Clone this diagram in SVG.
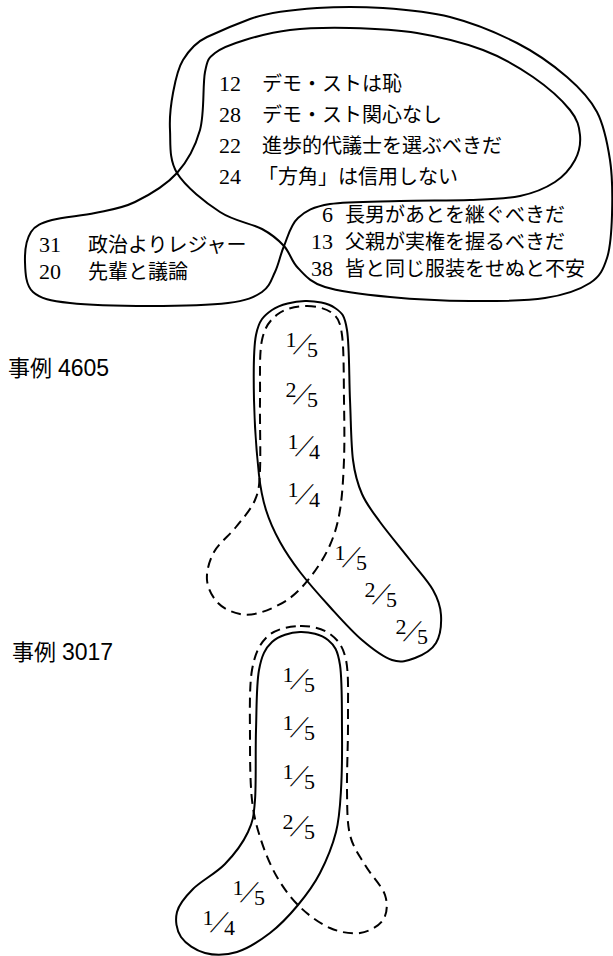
<svg xmlns="http://www.w3.org/2000/svg" width="613" height="956" viewBox="0 0 613 956">
<style>
.s{fill:none;stroke:#000;stroke-width:2;stroke-linejoin:round}
.d{fill:none;stroke:#000;stroke-width:2;stroke-dasharray:10 6}
.jp{font-family:"Noto Sans CJK JP","Noto Sans",sans-serif;font-size:20px;fill:#000}
.num{font-family:"Liberation Serif",serif;font-size:22px}
.lab{font-family:"Noto Sans CJK JP",sans-serif;font-size:22px;fill:#000}
.labn{font-family:"Liberation Sans",sans-serif;font-size:23px}
.fn{font-family:"Liberation Serif",serif;font-size:22px;fill:#000}
.fs{font-family:"Liberation Serif",serif;font-size:30px;fill:#000}
</style>
<defs>
<g id="f15"><text class="fn" x="-17.5" y="2">1</text><text class="fs" transform="translate(-10,9) skewX(-28)">/</text><text class="fn" x="4" y="12">5</text></g>
<g id="f25"><text class="fn" x="-17.5" y="2">2</text><text class="fs" transform="translate(-10,9) skewX(-28)">/</text><text class="fn" x="4" y="12">5</text></g>
<g id="f14"><text class="fn" x="-17.5" y="2">1</text><text class="fs" transform="translate(-10,9) skewX(-28)">/</text><text class="fn" x="4" y="12">4</text></g>
</defs>

<g id="connectors">
<path id="loop-outer" class="s" d="M177,173 C185.3,186.7 205.8,202.7 220,212 S251.3,223.3 262,229 S278,239.5 284,246 S291.2,261.2 298,268 S309.7,282.2 325,287 S365.8,294.7 390,297 S444.2,300.8 470,301 S525,301 545,298 S579.7,289.7 590,283 S603.3,269.3 607,258 S611.5,231.3 612,215 S612.5,176.3 610,160 S604.2,125.8 597,112 S580.3,88.5 567,77 S536.5,53 517,43 S472.3,22.8 450,17 S405.2,9.5 383,8 S339.2,6.5 317,8 S268.3,12.2 250,19 S218.2,31.8 207,37 S188.7,50.7 183,60 S175.2,81.3 173,93 S169.3,116.7 170,130 S168.7,159.3 177,173 Z"/>
<path id="loop-inner" class="s" d="M177,173 C166.2,185 148.7,195.3 135,202 S108.8,210 95,213 S62.7,216.8 52,220 S35.5,225 31,232 S24.7,252 25,262 S25.5,285.2 33,292 S50.5,300.7 70,303 S123.7,306 150,306 S209.3,305.3 228,303 S254.2,297.2 262,292 S271.3,279.7 275,272 S280.2,255 284,246 S290.3,225 298,218 S313,206.8 330,204 S376.7,201.7 400,201 S450,200.8 470,200 S505.8,199 520,196 S545.8,188 555,182 S570.8,167.8 575,160 S580.8,143.3 580,135 S577.8,119.7 570,110 S547.5,87 533,77 S502.3,57.3 483,50 S439.2,36.7 417,33 S371.2,28.5 350,28 S307.5,28 290,30 S257.5,36.2 245,40 S221.7,47.7 215,53 S207.5,59.2 205,72 S204.7,113.2 200,130 S187.8,161 177,173 Z"/>
<path id="c4605-solid" class="s" d="M305,301 C315.5,300.7 328,303.2 335,308 S344.5,314.7 347,330 S349,378.3 350,400 S351,444.3 353,460 S357.5,483.7 362,494 S372,511 380,522 S401.2,548.7 410,560 S427.8,580.8 433,590 S440.5,606.2 441,615 S440.3,635.8 436,643 S422.3,655.2 415,658 S400.8,663 392,660 S372.3,648.8 362,640 S340.3,618.3 330,607 S308.3,582.8 300,572 S285.7,552.3 280,542 S269.5,521.2 266,510 S261,493.3 259,475 S254.5,423.3 254,400 S253,350 256,335 S263.8,315.7 272,310 S294.5,301.3 305,301 Z"/>
<path id="c4605-dashed" class="d" d="M306,306 C315,305.8 326,308.2 332,313 S340,320.5 342,335 S343.7,379.2 344,400 S344.7,441.7 344,460 S342.3,495.8 340,510 S334.7,534.2 330,545 S318.7,566.2 312,575 S298.3,591.8 290,598 S270.3,609.3 262,612 S247.3,615.5 240,614 S223.5,608.7 218,603 S207.7,588.5 207,580 S209.2,560.8 214,552 S229.2,535.7 236,527 S251,509.5 255,500 S259.2,486.7 260,470 S259.7,421.7 260,400 S259,354.3 262,340 S270.7,319.7 278,314 S297,306.2 306,306 Z"/>
<path id="c3017-dashed" class="d" d="M300,626 C310.3,625.7 322.3,628.3 330,634 S343,645.7 346,660 S347.8,698.3 348,720 S346.7,770.8 347,790 S347,822.5 350,835 S359.2,855 365,865 S382,885.8 385,895 S387.2,913.7 383,920 S368.8,931.7 360,933 S340,932.3 330,928 S308.8,915.5 300,907 S283.5,888.2 277,877 S265.2,852.8 261,840 S253.8,816.7 252,800 S250,761.7 250,740 S249,687.3 252,670 S260,643.3 268,636 S289.7,626.3 300,626 Z"/>
<path id="c3017-solid" class="s" d="M300,632 C309.3,631.7 321.3,634.5 328,640 S337.7,650 340,665 S341.8,709.2 342,730 S342,773 341,790 S339.5,818.2 336,832 S326.3,860.8 320,873 S306.3,895 298,905 S280.2,925.2 270,933 S247.8,948.7 237,952 S214.3,955.5 205,953 S185.7,943.8 181,937 S175,920 177,912 S185,897 193,889 S215.8,873.5 225,864 S243,842.7 248,832 S253.7,817 255,800 S255.3,751.7 256,730 S256.3,684.7 259,670 S265.2,648.3 272,642 S290.7,632.3 300,632 Z"/>
</g>

<g id="items-top" class="jp">
<text x="219" y="91"><tspan class="num">12</tspan><tspan x="262">デモ・ストは恥</tspan></text>
<text x="219" y="122"><tspan class="num">28</tspan><tspan x="262">デモ・スト関心なし</tspan></text>
<text x="219" y="153"><tspan class="num">22</tspan><tspan x="262">進歩的代議士を選ぶべきだ</tspan></text>
<text x="219" y="184"><tspan class="num">24</tspan><tspan x="258">「方角」は信用しない</tspan></text>
</g>
<g id="items-left" class="jp">
<text x="39" y="252"><tspan class="num">31</tspan><tspan x="88">政治よりレジャー</tspan></text>
<text x="39" y="279"><tspan class="num">20</tspan><tspan x="88">先輩と議論</tspan></text>
</g>
<g id="items-right" class="jp">
<text x="322" y="222"><tspan class="num">6</tspan><tspan x="345">長男があとを継ぐべきだ</tspan></text>
<text x="311" y="249"><tspan class="num">13</tspan><tspan x="345">父親が実権を握るべきだ</tspan></text>
<text x="311" y="276"><tspan class="num">38</tspan><tspan x="345">皆と同じ服装をせぬと不安</tspan></text>
</g>

<g id="case-4605">
<text class="lab" x="8" y="376">事例 <tspan class="labn" x="58">4605</tspan></text>
<use href="#f15" x="303" y="345"/>
<use href="#f25" x="303" y="395"/>
<use href="#f14" x="305" y="447"/>
<use href="#f14" x="305" y="495"/>
<use href="#f15" x="352" y="558"/>
<use href="#f25" x="382" y="595"/>
<use href="#f25" x="413" y="632"/>
</g>

<g id="case-3017">
<text class="lab" x="12" y="660">事例 <tspan class="labn" x="62">3017</tspan></text>
<use href="#f15" x="300" y="680"/>
<use href="#f15" x="300" y="728"/>
<use href="#f15" x="300" y="777"/>
<use href="#f25" x="300" y="827"/>
<use href="#f15" x="250" y="893"/>
<use href="#f14" x="220" y="923"/>
</g>
</svg>
